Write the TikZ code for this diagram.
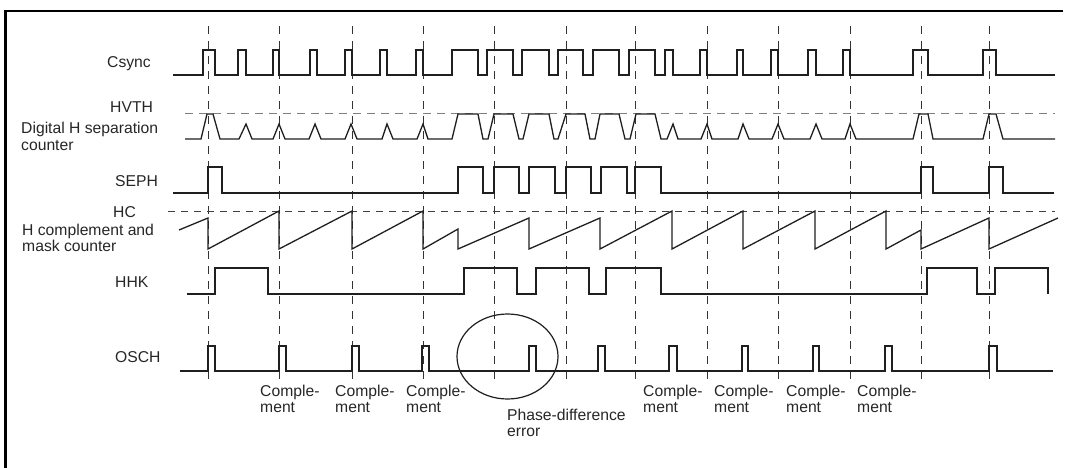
\documentclass[tikz,border=0pt]{standalone}
\usepackage{fontspec}
\setmainfont{Liberation Sans}
\begin{document}
\begin{tikzpicture}[x=1pt,y=-1pt,
  sig/.style={line width=1.3pt, black!88, line join=miter},
  vgrid/.style={line width=0.9pt, black!80, dash pattern=on 8pt off 7pt},
  hgrid/.style={line width=1pt, black!50, dash pattern=on 8pt off 6pt},
  lbl/.style={inner sep=0pt, anchor=base west, text=black!85, font=\fontsize{15.7}{16}\selectfont}]
\useasboundingbox (0,0) rectangle (1065,468);
% frame
\draw[line width=2.3pt] (5.5,468) -- (5.5,11) -- (1063,11);
% vertical dashed time markers
\foreach \x in {208,279,352,423,494,566,635,707,778,850,921,989}
  \draw[vgrid] (\x,26) -- (\x,385);
% threshold lines
\draw[hgrid] (185,114) -- (1055,114);
\draw[hgrid, black!75, dash pattern=on 7pt off 6pt] (168,211) -- (1055,211);
% Csync
\draw[sig] (173,75) foreach \r/\f in {203/215,238/246,273/279,310/317,345/352,380/387,416/423,452/478,487/513,522/549,558/583,593/619,629/655,665/673,700/707,737/743,771/778,808/816,843/850,913/928,983/996}
  { -- (\r,75) -- (\r,50) -- (\f,50) -- (\f,75) } -- (1055,75);
% Digital H separation counter
\draw[sig] (185,139) -- (201,139) -- (207,114) -- (213,114) -- (220,139)
  -- (239,139) -- (246,124) -- (252,139)
  -- (273,139) -- (279,124) -- (285,139)
  -- (309,139) -- (315,124) -- (321,139)
  -- (345,139) -- (351,124) -- (357,139)
  -- (382,139) -- (387,124) -- (393,139)
  -- (417,139) -- (423,124) -- (428,139)
  -- (452,139) -- (458,114) -- (478,114) -- (483,139)
  -- (488,139) -- (494,114) -- (513,114) -- (519,139)
  -- (523,139) -- (529,114) -- (549,114) -- (554,139)
  -- (558,139) -- (566,114) -- (585,114) -- (590,139)
  -- (595,139) -- (600,114) -- (619,114) -- (625,139)
  -- (630,139) -- (636,114) -- (655,114) -- (661,139)
  -- (667,139) -- (673,124) -- (678,139)
  -- (701,139) -- (707,124) -- (712,139)
  -- (738,139) -- (743,124) -- (749,139)
  -- (772,139) -- (778,124) -- (784,139)
  -- (810,139) -- (816,124) -- (822,139)
  -- (845,139) -- (850,124) -- (856,139)
  -- (913,139) -- (919,114) -- (928,114) -- (933,139)
  -- (983,139) -- (989,114) -- (996,114) -- (1003,139)
  -- (1055,139);
% SEPH
\draw[sig] (173,193) foreach \r/\f in {208/222,458/483,494/519,529/555,566/591,601/627,635/661,921/933,989/1003}
  { -- (\r,193) -- (\r,167) -- (\f,167) -- (\f,193) } -- (1054,193);
% H complement and mask counter
\draw[sig] (179,230) -- (208,218) -- (208,249) -- (279,211) -- (279,249)
  -- (352,211) -- (352,249) -- (423,211) -- (423,249) -- (458,229) -- (458,249)
  -- (529,218) -- (529,249) -- (600,218) -- (600,249) -- (672,211) -- (672,249)
  -- (743,211) -- (743,249) -- (815,211) -- (815,249) -- (886,211) -- (886,249)
  -- (921,230) -- (921,249) -- (989,218) -- (989,249) -- (1058,218);
% HHK
\draw[sig] (187,294) foreach \r/\f in {215/268,464/517,536/589,606/661,927/977}
  { -- (\r,294) -- (\r,268) -- (\f,268) -- (\f,294) } -- (995,294) -- (995,268) -- (1048,268) -- (1048,294);
% OSCH
\draw[sig] (180,371) foreach \r/\f in {208/215,279/286,352/359,422/429,529/536,598/605,669/677,742/748,813/819,885/892,989/997}
  { -- (\r,371) -- (\r,346) -- (\f,346) -- (\f,371) } -- (1053,371);
% phase-difference ellipse
\draw[line width=1.2pt, black!88] (507.5,356.5) ellipse [x radius=50.5pt, y radius=42.5pt];
% signal labels
\node[lbl] (lcsync) at (107,68) {Csync};
\node[lbl] (lhvth) at (110,113) {HVTH};
\node[lbl] (ldig1) at (21,134) {Digital H separation};
\node[lbl] (ldig2) at (21,150) {counter};
\node[lbl] (lseph) at (115,186.5) {SEPH};
\node[lbl] (lhc) at (113,217) {HC};
\node[lbl] (lhcm1) at (22,235) {H complement and};
\node[lbl] (lhcm2) at (22,251) {mask counter};
\node[lbl] (lhhk) at (115,287) {HHK};
\node[lbl] (losch) at (115,362) {OSCH};
% complement labels
\foreach \x [count=\i] in {260,335,406,643,714,786,857} {
  \node[lbl] (comp\i a) at (\x,396.5) {Comple-};
  \node[lbl] (comp\i b) at (\x,412.5) {ment};
}
\node[lbl] (phase1) at (507,420) {Phase-difference};
\node[lbl] (phase2) at (507,436) {error};
\end{tikzpicture}
\end{document}
